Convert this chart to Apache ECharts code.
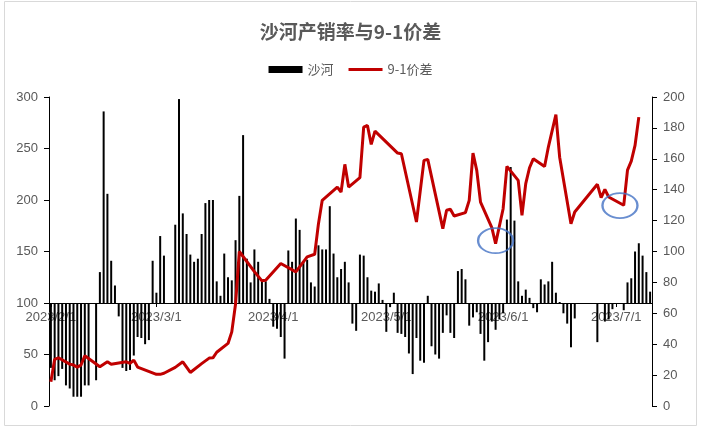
<!DOCTYPE html>
<html>
<head>
<meta charset="utf-8">
<script src="https://cdn.jsdelivr.net/npm/echarts@6/dist/echarts.min.js"></script>
<style>
html,body{margin:0;padding:0;background:#fff;}
#main{width:701px;height:429px;}
</style>
</head>
<body>
<div id="main"></div>
<script>
// ---- data ----
const startDate = [2023, 2, 1];   // first calendar day on the axis
const dayCount = 160;             // 2023/2/1 .. 2023/7/10

// 沙河产销率 (daily, %), null = no data
const shaheRatio = [
  37, 25, 29, 36, 20, 17, 9, 9, 9, 20,
  20, null, 25, 130, 286, 206, 141, 117, 87, 37,
  34, 35, 49, 67, 66, 60, 64, 141, 110, 165,
  146, null, null, 176, 298, 187, 167, 147, 140, 143,
  167, 197, 200, 200, 121, 107, 148, 125, 122, 161,
  204, 263, 143, 120, 152, 140, 121, 121, 104, 77,
  75, 67, 46, 151, 140, 182, 171, 140, 142, 120,
  116, 156, 152, 152, 194, 148, 125, 133, 140, 120,
  80, 73, 147, 146, 125, 112, 111, 119, 103, 72,
  96, 110, 71, 70, 67, 51, 31, 66, 44, 42,
  107, 58, 50, 46, 71, 88, 71, 66, 131, 133,
  123, 78, 86, 91, 70, 44, 62, 82, 74, 84,
  90, 181, 232, 180, 121, 107, 113, 105, 95, 91,
  123, 118, 121, 140, 110, 101, 90, 80, 57, 85,
  null, null, null, null, null, 62, null, 82, 84, 94,
  null, null, 93, 120, 124, 150, 158, 146, 130, 111
];

// 9-1价差 (trading days)
const spreadDates = [
  '2023/2/1','2023/2/2','2023/2/3','2023/2/6','2023/2/7','2023/2/8','2023/2/9','2023/2/10','2023/2/14','2023/2/16',
  '2023/2/17','2023/2/21','2023/2/22','2023/2/23','2023/2/24','2023/3/1','2023/3/2','2023/3/3','2023/3/6','2023/3/8',
  '2023/3/10','2023/3/13','2023/3/15','2023/3/16','2023/3/17','2023/3/20','2023/3/21','2023/3/22','2023/3/23','2023/3/27',
  '2023/3/29','2023/3/30','2023/4/3','2023/4/7','2023/4/10','2023/4/12','2023/4/13','2023/4/14','2023/4/18','2023/4/19',
  '2023/4/20','2023/4/21','2023/4/24','2023/4/25','2023/4/26','2023/4/27','2023/4/28','2023/5/4','2023/5/5','2023/5/9',
  '2023/5/11','2023/5/12','2023/5/16','2023/5/17','2023/5/18','2023/5/19','2023/5/22','2023/5/23','2023/5/24','2023/5/25',
  '2023/5/26','2023/5/29','2023/5/30','2023/6/1','2023/6/2','2023/6/5','2023/6/6','2023/6/7','2023/6/8','2023/6/9',
  '2023/6/12','2023/6/13','2023/6/15','2023/6/16','2023/6/19','2023/6/20','2023/6/26','2023/6/27','2023/6/28','2023/6/29',
  '2023/7/3','2023/7/4','2023/7/5','2023/7/6','2023/7/7'
];
const spreadValues = [
  15.7, 30.2, 31.2, 27.1, 26.5, 25.2, 26.5, 32.5, 25.4, 28.6,
  27, 28.6, 27.6, 29.7, 25.2, 20.5, 20.5, 21.2, 25, 28.6,
  21.7, 27.4, 31, 31.2, 34.8, 40.5, 48, 66, 100, 87,
  81, 81.4, 92.2, 86.8, 96.5, 98.2, 118, 133.1, 141.7, 138.5,
  156.4, 141.7, 147.8, 180.5, 181.6, 169.3, 177.9, 163.7, 163.3, 119.1,
  159, 159.6, 114.8, 126.7, 127.3, 123, 125.2, 133.1, 163.7, 152.5,
  132, 115.5, 105.1, 127.7, 155.1, 146, 123.4, 143.9, 154.2, 160,
  155, 167.6, 188.6, 161, 118, 125.6, 143.5, 134.9, 140.2, 135.3,
  129.9, 152.7, 158.5, 168.7, 187
];

// highlighted spread lows (blue ellipses)
const markDates = ['2023/5/30', '2023/7/2'];
const markValues = [107, 129.7];

// left axis: x-axis crosses at this value
const leftBase = 100;

// ---- build ----
const categories = [];
for (let i = 0; i < dayCount; i++) {
  const d = new Date(startDate[0], startDate[1] - 1, startDate[2] + i);
  categories.push(d.getFullYear() + '/' + (d.getMonth() + 1) + '/' + d.getDate());
}
const isMonthStart = (idx, val) => /\/1$/.test(val);

const chart = echarts.init(document.getElementById('main'), null, {renderer: 'canvas'});
const txt = '#595959';
const ff = "'Liberation Sans','Noto Sans CJK SC',sans-serif";
const lineIcon = 'path://M0,0L0.01,0L0.01,0.01Z M0,2L34,2L34,5L0,5Z M33.99,6.99L34,6.99L34,7Z';
chart.setOption({
  animation: false,
  textStyle: {fontFamily: ff},
  title: {
    text: '沙河产销率与9-1价差',
    left: 'center', top: 17,
    textStyle: {fontSize: 19, fontWeight: 'bold', color: txt, fontFamily: "'Noto Sans CJK SC',sans-serif"}
  },
  legend: {
    top: 58, left: 'center',
    data: [{name: '沙河', icon: 'rect'}, {name: '9-1价差', icon: lineIcon}],
    itemWidth: 34, itemHeight: 7, itemGap: 15,
    textStyle: {fontSize: 13, color: txt, fontFamily: "'Noto Sans CJK SC',sans-serif"}
  },
  graphic: [{
    type: 'rect', silent: true, z: -10,
    shape: {x: 4.5, y: 1.5, width: 692, height: 424},
    style: {fill: 'none', stroke: '#D9D9D9', lineWidth: 1}
  }],
  grid: {left: 49, right: 49, top: 97, bottom: 23},
  xAxis: {
    type: 'category', data: categories, boundaryGap: true,
    axisLine: {onZero: false, lineStyle: {color: '#000', width: 1}},
    axisTick: {show: true, alignWithLabel: true, interval: isMonthStart, length: 4, lineStyle: {color: '#000'}},
    axisLabel: {interval: isMonthStart, color: txt, fontSize: 13, margin: 8}
  },
  yAxis: [{
    type: 'value', min: -100, max: 200, interval: 50,
    axisLine: {show: true, onZero: false, lineStyle: {color: '#000'}},
    axisTick: {show: true, length: 5, lineStyle: {color: '#000'}},
    axisLabel: {color: txt, fontSize: 13, margin: 11, formatter: v => String(v + leftBase)},
    splitLine: {show: false}
  }, {
    type: 'value', position: 'right', min: 0, max: 200, interval: 20,
    axisLine: {show: true, onZero: false, lineStyle: {color: '#000'}},
    axisTick: {show: true, length: 5, lineStyle: {color: '#000'}},
    axisLabel: {color: txt, fontSize: 13, margin: 11},
    splitLine: {show: false}
  }],
  series: [{
    name: '沙河', type: 'bar', yAxisIndex: 0, barWidth: 2,
    itemStyle: {color: '#000'},
    data: shaheRatio.map(v => v == null ? null : v - leftBase)
  }, {
    name: '9-1价差', type: 'line', yAxisIndex: 1, symbol: 'none', connectNulls: true, z: 3,
    lineStyle: {color: '#C00000', width: 3}, itemStyle: {color: '#C00000'},
    data: spreadDates.map((d, i) => [d, spreadValues[i]])
  }, {
    name: 'mark', type: 'scatter', yAxisIndex: 1, silent: true, z: 4,
    symbol: 'circle', symbolSize: [35, 25],
    itemStyle: {color: 'rgba(0,0,0,0)', borderColor: '#4472C4', borderWidth: 2},
    data: markDates.map((d, i) => [d, markValues[i]])
  }]
});
// place the category axis where the left axis reads leftBase (plot value 0)
const yCross = chart.convertToPixel({yAxisIndex: 0}, 0);
const yBottom = chart.convertToPixel({yAxisIndex: 0}, -100);
chart.setOption({xAxis: {offset: yCross - yBottom}});
</script>
</body>
</html>
